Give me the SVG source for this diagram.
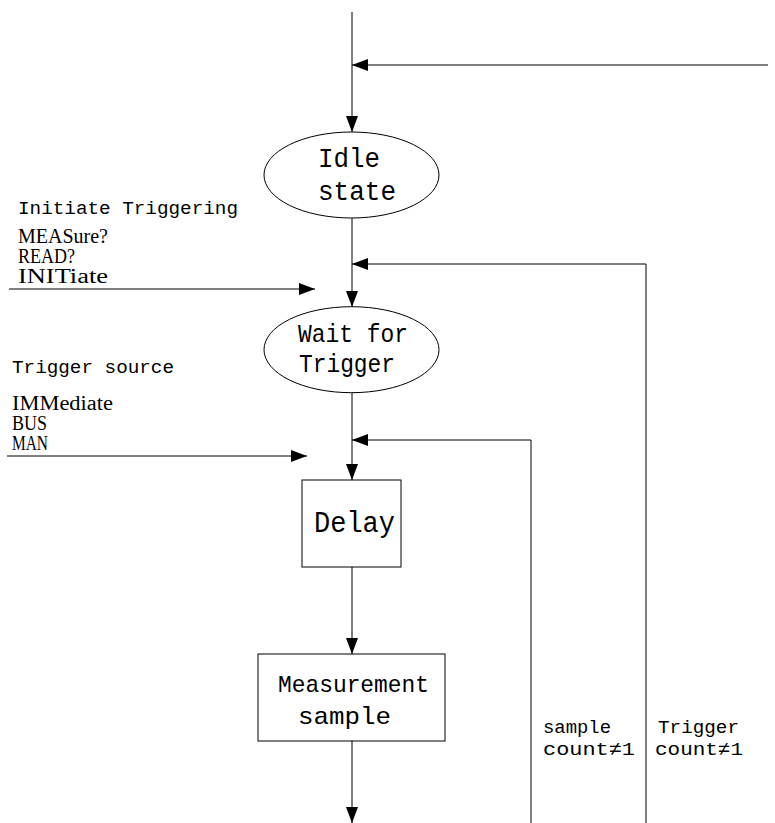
<svg xmlns="http://www.w3.org/2000/svg" width="775" height="823" viewBox="0 0 775 823">
<style>
.ln{fill:none;stroke:#000;stroke-width:1}
.arr{marker-end:url(#ah)}
.shape{fill:#fff;stroke:#000;stroke-width:1}
.node{font-family:"Liberation Mono","DejaVu Sans Mono",monospace;fill:#000}
.lbl{font-family:"Liberation Mono","DejaVu Sans Mono",monospace;font-size:19px;fill:#000}
.cmd{font-family:"Liberation Serif","Times New Roman",serif;font-size:20px;fill:#000}
</style>
<defs>
<marker id="ah" viewBox="0 0 16 12" refX="16" refY="6" markerWidth="16" markerHeight="12" markerUnits="userSpaceOnUse" orient="auto">
<path d="M0,0 L16,6 L0,12 Z" fill="#000"/>
</marker>
</defs>
<rect width="775" height="823" fill="#fff"/>
<g id="connectors">
<line class="ln arr" x1="352" y1="12" x2="352" y2="132"/>
<line class="ln arr" x1="768" y1="65" x2="352" y2="65"/>
<line class="ln arr" x1="352" y1="218" x2="352" y2="307"/>
<polyline class="ln arr" points="646,823 646,264 352,264"/>
<line class="ln arr" x1="9" y1="289" x2="315" y2="289"/>
<line class="ln arr" x1="352" y1="392" x2="352" y2="480"/>
<polyline class="ln arr" points="531,823 531,440 352,440"/>
<line class="ln arr" x1="7" y1="456" x2="307" y2="456"/>
<line class="ln arr" x1="352" y1="567" x2="352" y2="654"/>
<line class="ln arr" x1="352" y1="741" x2="352" y2="823"/>
</g>
<g id="idle">
<ellipse class="shape" cx="351.5" cy="175" rx="87.5" ry="43"/>
<text class="node" font-size="28" x="318" y="167" textLength="62" lengthAdjust="spacingAndGlyphs">Idle</text>
<text class="node" font-size="28" x="318" y="200" textLength="78" lengthAdjust="spacingAndGlyphs">state</text>
</g>
<g id="wait">
<ellipse class="shape" cx="351.5" cy="349.7" rx="87.5" ry="43"/>
<text class="node" font-size="26" x="298" y="342" textLength="110" lengthAdjust="spacingAndGlyphs">Wait for</text>
<text class="node" font-size="26" x="299" y="372" textLength="96" lengthAdjust="spacingAndGlyphs">Trigger</text>
</g>
<g id="delay">
<rect class="shape" x="302" y="480" width="99" height="87"/>
<text class="node" font-size="30" x="314" y="532" textLength="81" lengthAdjust="spacingAndGlyphs">Delay</text>
</g>
<g id="measure">
<rect class="shape" x="258" y="654" width="187" height="87"/>
<text class="node" font-size="24" x="278" y="692" textLength="151" lengthAdjust="spacingAndGlyphs">Measurement</text>
<text class="node" font-size="24" x="298" y="724" textLength="93" lengthAdjust="spacingAndGlyphs">sample</text>
</g>
<g id="labels">
<text class="lbl" x="18" y="214" textLength="220" lengthAdjust="spacingAndGlyphs">Initiate Triggering</text>
<text class="cmd" x="18" y="243" textLength="90" lengthAdjust="spacingAndGlyphs">MEASure?</text>
<text class="cmd" x="18" y="263" textLength="57" lengthAdjust="spacingAndGlyphs">READ?</text>
<text class="cmd" x="18" y="283" textLength="90" lengthAdjust="spacingAndGlyphs">INITiate</text>
<text class="lbl" x="12" y="373" textLength="162" lengthAdjust="spacingAndGlyphs">Trigger source</text>
<text class="cmd" x="12" y="410" textLength="101" lengthAdjust="spacingAndGlyphs">IMMediate</text>
<text class="cmd" x="12" y="430" textLength="35" lengthAdjust="spacingAndGlyphs">BUS</text>
<text class="cmd" x="12" y="450" textLength="36" lengthAdjust="spacingAndGlyphs">MAN</text>
<text class="lbl" x="543" y="733" textLength="68" lengthAdjust="spacingAndGlyphs">sample</text>
<text class="lbl" x="543" y="755" textLength="92" lengthAdjust="spacingAndGlyphs">count≠1</text>
<text class="lbl" x="658" y="733" textLength="81" lengthAdjust="spacingAndGlyphs">Trigger</text>
<text class="lbl" x="655" y="755" textLength="88" lengthAdjust="spacingAndGlyphs">count≠1</text>
</g>
</svg>
